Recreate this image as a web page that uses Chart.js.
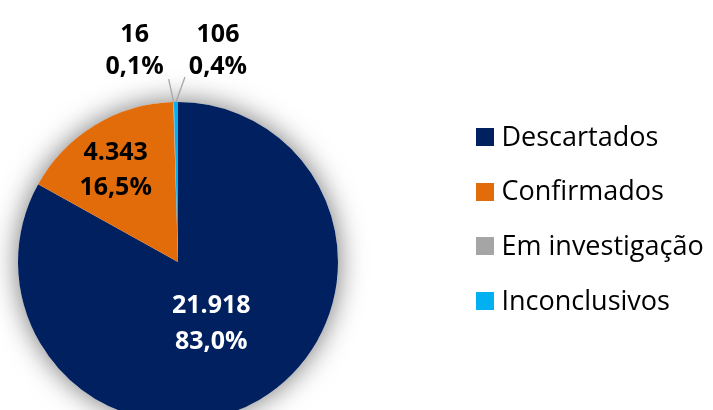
<!DOCTYPE html>
<html>
<head>
<meta charset="utf-8">
<script src="https://cdn.jsdelivr.net/npm/chart.js@4.4.1/dist/chart.umd.min.js"></script>
<style>
  body { margin: 0; background: #fff; }
  #wrap { position: relative; width: 713px; height: 410px; overflow: hidden; }
  #chart { position: absolute; left: 0; top: 0; }
  #legend { position: absolute; left: 476px; top: 0; font-family: "Open Sans", sans-serif; font-size: 27px; color: #000; }
  .item { position: absolute; left: 0; white-space: nowrap; line-height: 34px; height: 34px; }
  .box { position: absolute; left: 0; top: 9.5px; width: 18px; height: 18px; }
  .txt { position: absolute; left: 25.5px; top: 0; }
</style>
</head>
<body>
<div id="wrap">
  <canvas id="chart" width="713" height="440"></canvas>
  <div id="legend"></div>
</div>
<script>
// chart data
const categories = ["Descartados", "Confirmados", "Em investigação", "Inconclusivos"];
const counts = [21918, 4343, 16, 106];
const countLabels = ["21.918", "4.343", "16", "106"];
const percentLabels = ["83,0%", "16,5%", "0,1%", "0,4%"];
const sliceColors = ["#002060", "#E36C0A", "#A5A5A5", "#00B0F0"];

// label placement per slice (inside = fraction of radius, outside = offset from edge)
const labelStyle = [
  { inside: true, frac: 0.435, dx: -2, dy: 0, color: "#fff", gap: 36 },
  { inside: true, frac: 0.69, dx: -5, dy: 1, color: "#000", gap: 35 },
  { inside: false, dx: -39, dy: -53, lx: -5, ly: -23, color: "#000", gap: 31.5 },
  { inside: false, dx: 42, dy: -53, lx: 9, ly: -25, color: "#000", gap: 31.5 }
];

// soft glow behind the pie
const pieShadow = {
  id: "pieShadow",
  beforeDatasetsDraw(chart) {
    const arc = chart.getDatasetMeta(0).data[0];
    const ctx = chart.ctx;
    ctx.save();
    ctx.shadowColor = "rgba(0,0,0,0.55)";
    ctx.shadowBlur = 28;
    ctx.beginPath();
    ctx.arc(arc.x, arc.y, arc.outerRadius, 0, Math.PI * 2);
    ctx.fillStyle = "#fff";
    ctx.fill();
    ctx.restore();
  }
};

// value + percent labels, with leader lines for the thin slices
const sliceLabels = {
  id: "sliceLabels",
  afterDatasetsDraw(chart) {
    const ctx = chart.ctx;
    const arcs = chart.getDatasetMeta(0).data;
    ctx.save();
    ctx.font = "bold 25px 'Open Sans'";
    ctx.textAlign = "center";
    ctx.textBaseline = "alphabetic";
    arcs.forEach((arc, i) => {
      const st = labelStyle[i];
      const mid = (arc.startAngle + arc.endAngle) / 2;
      let cx, cy;
      if (st.inside) {
        const r = arc.outerRadius * st.frac;
        cx = arc.x + Math.cos(mid) * r + st.dx;
        cy = arc.y + Math.sin(mid) * r + st.dy;
      } else {
        const ex = arc.x + Math.cos(mid) * arc.outerRadius;
        const ey = arc.y + Math.sin(mid) * arc.outerRadius;
        ctx.strokeStyle = "#A6A6A6";
        ctx.lineWidth = 1.3;
        ctx.beginPath();
        ctx.moveTo(ex, ey);
        ctx.lineTo(ex + st.lx, ey + st.ly);
        ctx.stroke();
        cx = ex + st.dx;
        cy = ey + st.dy;
      }
      ctx.fillStyle = st.color;
      ctx.fillText(countLabels[i], cx, cy - st.gap / 2 + 9);
      ctx.fillText(percentLabels[i], cx, cy + st.gap / 2 + 9);
    });
    ctx.restore();
  }
};

// html legend
const legend = document.getElementById("legend");
categories.forEach((name, i) => {
  const item = document.createElement("div");
  item.className = "item";
  item.style.top = (118.5 + i * 54.7) + "px";
  const box = document.createElement("span");
  box.className = "box";
  box.style.background = sliceColors[i];
  const txt = document.createElement("span");
  txt.className = "txt";
  txt.textContent = name;
  item.appendChild(box);
  item.appendChild(txt);
  legend.appendChild(item);
});

const ctx = document.getElementById("chart").getContext("2d");
new Chart(ctx, {
  type: "pie",
  data: {
    labels: categories,
    datasets: [{
      data: counts,
      backgroundColor: sliceColors,
      borderWidth: 0
    }]
  },
  options: {
    responsive: false,
    devicePixelRatio: 1,
    animation: false,
    layout: { padding: { left: 18, right: 375, top: 102, bottom: 18 } },
    plugins: {
      legend: { display: false },
      tooltip: { enabled: false }
    }
  },
  plugins: [pieShadow, sliceLabels]
});
</script>
</body>
</html>
